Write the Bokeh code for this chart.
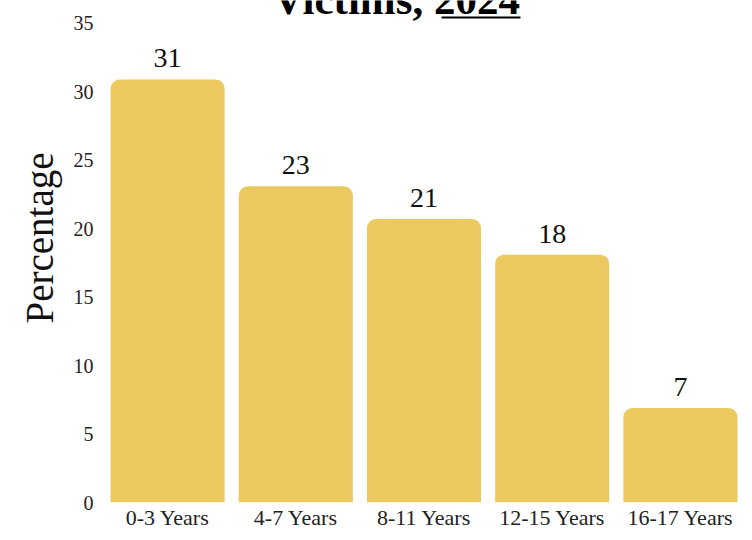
from bokeh.plotting import figure
from bokeh.models import ColumnDataSource, Label, BoxAnnotation, FixedTicker, Title, Range1d
from bokeh.core.properties import value
from bokeh.embed import file_html
from bokeh.resources import INLINE

categories = ["0-3 Years", "4-7 Years", "8-11 Years", "12-15 Years", "16-17 Years"]
percentages = [30.9, 23.1, 20.7, 18.1, 6.9]
bar_labels = ["31", "23", "21", "18", "7"]
y_ticks = [0, 5, 10, 15, 20, 25, 30, 35]
title_text = "Victims, 2024"
y_label = "Percentage"

SERIF = "Liberation Serif"
BAR_COLOR = "#EBC95F"

W, H = 744, 532
BORDER_LEFT, BORDER_BOTTOM = 103, 27
FRAME_H = H - BORDER_BOTTOM          # frame reaches the top of the canvas
TOP_GAP = 23                         # pixels between canvas top and the 35 tick
y_end = 35 * FRAME_H / (FRAME_H - TOP_GAP)

source = ColumnDataSource(dict(cat=categories, pct=percentages, lab=bar_labels))

p = figure(
    x_range=categories, y_range=Range1d(0, y_end),
    width=W, height=H,
    output_backend="svg", toolbar_location=None,
    min_border_left=BORDER_LEFT, min_border_right=0, min_border_top=0,
    min_border_bottom=BORDER_BOTTOM,
)
p.outline_line_color = None
p.background_fill_color = "white"
p.border_fill_color = "white"
p.xgrid.grid_line_color = None
p.ygrid.grid_line_color = None

p.vbar(x="cat", top="pct", width=0.89, source=source, color=BAR_COLOR,
       line_color=None, border_radius=(9, 9, 0, 0))

p.text(x="cat", y="pct", text="lab", source=source, text_align="center",
       text_baseline="alphabetic", y_offset=-21,
       text_font=value(SERIF), text_font_size="28px", text_color="#111111")

# axes
p.yaxis.ticker = FixedTicker(ticks=y_ticks)
for ax in (p.xaxis[0], p.yaxis[0]):
    ax.axis_line_color = None
    ax.major_tick_line_color = None
    ax.minor_tick_line_color = None
    ax.major_tick_out = 0
    ax.major_tick_in = 0
    ax.minor_tick_out = 0
    ax.major_label_text_font = SERIF
    ax.major_label_text_color = "#222222"

p.yaxis.major_label_text_font_size = "20px"
p.yaxis.major_label_standoff = 10

p.xaxis.major_label_text_font_size = "22px"
p.xaxis.major_label_standoff = 2

# y-axis title on the left side
ytitle = Title(text=y_label, align="left", offset=179, standoff=19,
               text_font=SERIF, text_font_size="39px", text_font_style="normal",
               text_color="#111111")
p.add_layout(ytitle, "left")

# chart title (partially cut off at the top, as in the reference)
title = Label(x=293, y=FRAME_H - 2, x_units="screen", y_units="screen", text=title_text,
              text_align="center", text_baseline="alphabetic",
              text_font=SERIF, text_font_size="43px", text_font_style="bold",
              text_color="#000000")
p.add_layout(title)
underline = BoxAnnotation(left=338, right=417, bottom=FRAME_H - 21, top=FRAME_H - 19,
                          left_units="screen", right_units="screen",
                          bottom_units="screen", top_units="screen",
                          fill_color="#000000", fill_alpha=1.0, line_color=None)
p.add_layout(underline)

open("out.html", "w").write(file_html(p, INLINE))
